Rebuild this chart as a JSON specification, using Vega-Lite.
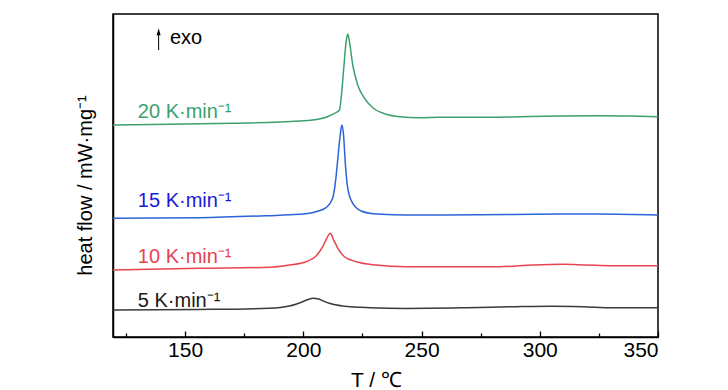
{
  "$schema": "https://vega.github.io/schema/vega-lite/v6.json",
  "width": 545,
  "height": 323,
  "autosize": "none",
  "padding": {"left": 113, "top": 14, "right": 70, "bottom": 53},
  "background": "white",
  "config": {
    "view": {"stroke": "#000", "strokeWidth": 1.5},
    "font": "Liberation Sans"
  },
  "datasets": {
    "curves": [
      {"rate": "5", "T": 119.5, "hf": 0.27},
      {"rate": "5", "T": 156, "hf": 0.275},
      {"rate": "5", "T": 185.6, "hf": 0.287},
      {"rate": "5", "T": 194.1, "hf": 0.31},
      {"rate": "5", "T": 199.7, "hf": 0.353},
      {"rate": "5", "T": 202, "hf": 0.375},
      {"rate": "5", "T": 204.0, "hf": 0.387},
      {"rate": "5", "T": 206.8, "hf": 0.377},
      {"rate": "5", "T": 208.5, "hf": 0.36},
      {"rate": "5", "T": 211.0, "hf": 0.337},
      {"rate": "5", "T": 216.7, "hf": 0.31},
      {"rate": "5", "T": 228.0, "hf": 0.293},
      {"rate": "5", "T": 243.5, "hf": 0.286},
      {"rate": "5", "T": 269.1, "hf": 0.293},
      {"rate": "5", "T": 290.0, "hf": 0.303},
      {"rate": "5", "T": 305.0, "hf": 0.307},
      {"rate": "5", "T": 318.0, "hf": 0.303},
      {"rate": "5", "T": 330.9, "hf": 0.293},
      {"rate": "5", "T": 350, "hf": 0.293},
      {"rate": "10", "T": 119.5, "hf": 0.67},
      {"rate": "10", "T": 156, "hf": 0.687},
      {"rate": "10", "T": 185.6, "hf": 0.697},
      {"rate": "10", "T": 194.1, "hf": 0.72},
      {"rate": "10", "T": 201.2, "hf": 0.753},
      {"rate": "10", "T": 205.4, "hf": 0.81},
      {"rate": "10", "T": 208.2, "hf": 0.903},
      {"rate": "10", "T": 209.9, "hf": 0.987},
      {"rate": "10", "T": 211.4, "hf": 1.037},
      {"rate": "10", "T": 212.7, "hf": 0.977},
      {"rate": "10", "T": 214.6, "hf": 0.887},
      {"rate": "10", "T": 217.4, "hf": 0.803},
      {"rate": "10", "T": 222.4, "hf": 0.753},
      {"rate": "10", "T": 230.8, "hf": 0.72},
      {"rate": "10", "T": 243.5, "hf": 0.703},
      {"rate": "10", "T": 257.6, "hf": 0.703},
      {"rate": "10", "T": 283.0, "hf": 0.703},
      {"rate": "10", "T": 297.0, "hf": 0.72},
      {"rate": "10", "T": 309.7, "hf": 0.727},
      {"rate": "10", "T": 319.9, "hf": 0.72},
      {"rate": "10", "T": 330.9, "hf": 0.713},
      {"rate": "10", "T": 350, "hf": 0.713},
      {"rate": "15", "T": 119.5, "hf": 1.187},
      {"rate": "15", "T": 156, "hf": 1.193},
      {"rate": "15", "T": 184.4, "hf": 1.213},
      {"rate": "15", "T": 198.3, "hf": 1.227},
      {"rate": "15", "T": 205.4, "hf": 1.253},
      {"rate": "15", "T": 209.6, "hf": 1.293},
      {"rate": "15", "T": 212.4, "hf": 1.387},
      {"rate": "15", "T": 213.6, "hf": 1.553},
      {"rate": "15", "T": 214.6, "hf": 1.787},
      {"rate": "15", "T": 215.6, "hf": 2.02},
      {"rate": "15", "T": 216.3, "hf": 2.12},
      {"rate": "15", "T": 217.0, "hf": 2.02},
      {"rate": "15", "T": 217.8, "hf": 1.72},
      {"rate": "15", "T": 218.8, "hf": 1.487},
      {"rate": "15", "T": 220.9, "hf": 1.337},
      {"rate": "15", "T": 224.5, "hf": 1.26},
      {"rate": "15", "T": 229.4, "hf": 1.233},
      {"rate": "15", "T": 237.9, "hf": 1.223},
      {"rate": "15", "T": 249.2, "hf": 1.22},
      {"rate": "15", "T": 274.6, "hf": 1.223},
      {"rate": "15", "T": 308.5, "hf": 1.23},
      {"rate": "15", "T": 325.4, "hf": 1.23},
      {"rate": "15", "T": 350, "hf": 1.22},
      {"rate": "20", "T": 119.5, "hf": 2.12},
      {"rate": "20", "T": 150, "hf": 2.13},
      {"rate": "20", "T": 170.5, "hf": 2.137},
      {"rate": "20", "T": 198.3, "hf": 2.16},
      {"rate": "20", "T": 206.8, "hf": 2.18},
      {"rate": "20", "T": 213.2, "hf": 2.237},
      {"rate": "20", "T": 215.3, "hf": 2.27},
      {"rate": "20", "T": 216.0, "hf": 2.39},
      {"rate": "20", "T": 217.1, "hf": 2.69},
      {"rate": "20", "T": 218.1, "hf": 2.953},
      {"rate": "20", "T": 218.8, "hf": 3.03},
      {"rate": "20", "T": 219.5, "hf": 2.953},
      {"rate": "20", "T": 220.9, "hf": 2.72},
      {"rate": "20", "T": 223.0, "hf": 2.52},
      {"rate": "20", "T": 225.9, "hf": 2.387},
      {"rate": "20", "T": 229.4, "hf": 2.293},
      {"rate": "20", "T": 235.1, "hf": 2.227},
      {"rate": "20", "T": 240.7, "hf": 2.203},
      {"rate": "20", "T": 249.2, "hf": 2.193},
      {"rate": "20", "T": 257.6, "hf": 2.197},
      {"rate": "20", "T": 274.6, "hf": 2.197},
      {"rate": "20", "T": 291.5, "hf": 2.203},
      {"rate": "20", "T": 308.5, "hf": 2.21},
      {"rate": "20", "T": 325.4, "hf": 2.213},
      {"rate": "20", "T": 338.1, "hf": 2.21},
      {"rate": "20", "T": 350, "hf": 2.203}
    ],
    "labels": [
      {"rate": "20", "T": 130.0, "hf": 2.187, "text": "20 K·min⁻¹"},
      {"rate": "15", "T": 130.0, "hf": 1.297, "text": "15 K·min⁻¹"},
      {"rate": "10", "T": 130.0, "hf": 0.737, "text": "10 K·min⁻¹"},
      {"rate": "5", "T": 130.0, "hf": 0.303, "text": "5 K·min⁻¹"}
    ],
    "exo": [
      {"T": 138.8, "hf0": 2.87, "hf1": 3.047, "text": "exo", "Tt": 143.6, "hft": 2.93}
    ]
  },
  "layer": [
    {
      "data": {"name": "curves"},
      "mark": {"type": "line", "strokeWidth": 1.5, "interpolate": "monotone"},
      "encoding": {
        "x": {
          "field": "T", "type": "quantitative",
          "scale": {"domain": [119.5, 350], "nice": false, "zero": false},
          "axis": {
            "orient": "bottom",
            "values": [150, 200, 250, 300, 350],
            "tickSize": -6,
            "tickColor": "#000", "tickWidth": 1.3,
            "grid": false,
            "domainColor": "#000", "domainWidth": 1.5,
            "labelFontSize": 21, "labelColor": "#000", "labelPadding": 8,
            "labelFont": "Liberation Sans",
            "title": "T / ℃",
            "titleFont": "Liberation Sans",
            "titleFontSize": 21, "titleFontWeight": "normal", "titleColor": "#000",
            "titleX": 263, "titleY": 49, "titleBaseline": "alphabetic", "titleAlign": "center"
          }
        },
        "y": {
          "field": "hf", "type": "quantitative",
          "scale": {"domain": [0, 3.23], "nice": false, "zero": false},
          "axis": {
            "labels": false, "ticks": false, "grid": false,
            "domainColor": "#000", "domainWidth": 1.5,
            "title": "heat flow / mW·mg⁻¹",
            "titleFont": "Liberation Sans",
            "titleFontSize": 20, "titleFontWeight": "normal", "titleColor": "#000",
            "titleX": -28, "titleY": 171, "titleAngle": -90,
            "titleBaseline": "middle", "titleAlign": "center"
          }
        },
        "color": {
          "field": "rate", "type": "nominal",
          "scale": {"domain": ["5", "10", "15", "20"], "range": ["#3a3a3a", "#e8434f", "#2b63d9", "#3c9f6e"]},
          "legend": null
        }
      }
    },
    {
      "data": {"name": "labels"},
      "mark": {"type": "text", "align": "left", "baseline": "alphabetic", "fontSize": 20, "font": "Liberation Sans"},
      "encoding": {
        "x": {
          "field": "T", "type": "quantitative",
          "axis": {
            "orient": "bottom",
            "values": [125, 175, 225, 275, 325],
            "tickSize": -4, "tickColor": "#000", "tickWidth": 1.3,
            "labels": false, "domain": false, "grid": false, "title": null
          }
        },
        "y": {"field": "hf", "type": "quantitative"},
        "text": {"field": "text"},
        "color": {
          "field": "rate", "type": "nominal",
          "scale": {"domain": ["5", "10", "15", "20"], "range": ["#1a1a1a", "#e8434f", "#1a1ad6", "#3c9f6e"]},
          "legend": null
        }
      }
    },
    {
      "data": {"name": "exo"},
      "mark": {"type": "rule", "color": "#000", "strokeWidth": 1},
      "encoding": {
        "x": {"field": "T", "type": "quantitative", "axis": null},
        "y": {"field": "hf0", "type": "quantitative"},
        "y2": {"field": "hf1"}
      }
    },
    {
      "data": {"name": "exo"},
      "mark": {"type": "point", "filled": true, "color": "#000", "opacity": 1, "size": 64, "shape": "M0,-1L0.5,0.75L-0.5,0.75Z"},
      "encoding": {
        "x": {"field": "T", "type": "quantitative", "axis": null},
        "y": {"field": "hf1", "type": "quantitative"}
      }
    },
    {
      "data": {"name": "exo"},
      "mark": {"type": "text", "align": "left", "baseline": "alphabetic", "fontSize": 20, "font": "Liberation Sans", "color": "#000"},
      "encoding": {
        "x": {"field": "Tt", "type": "quantitative", "axis": null},
        "y": {"field": "hft", "type": "quantitative"},
        "text": {"field": "text"}
      }
    }
  ],
  "resolve": {"scale": {"color": "independent"}, "axis": {"x": "independent"}}
}
